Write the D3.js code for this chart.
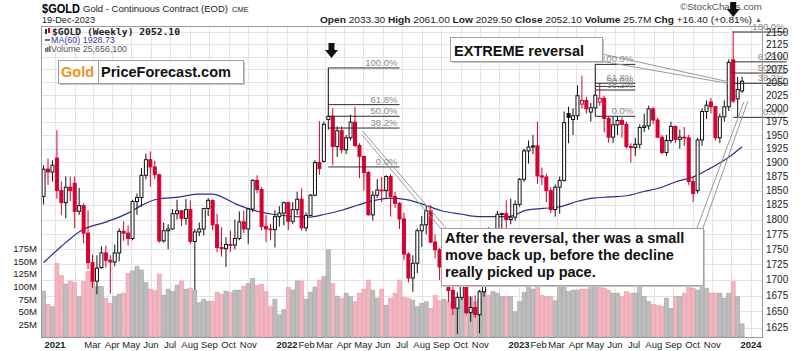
<!DOCTYPE html>
<html>
<head>
<meta charset="utf-8">
<script src="https://cdn.jsdelivr.net/npm/d3@7"></script>
<style>
body { margin: 0; background: #fff; }
svg { display: block; font-family: "Liberation Sans", Arial, sans-serif; }
</style>
</head>
<body>
<div id="chart"></div>
<script>
// Weekly $GOLD candles, first week starts Monday 2020-12-14
const firstWeek = '2020-12-14';

const opens = [1840,1888,1883,1908,1850,1829,1856,1863,1814,1824,1777,1728,1698,1720,1744,1732,1729,1744,1780,1777,
  1768,1831,1838,1877,1905,1892,1878,1764,1781,1784,1810,1815,1802,1817,1763,1779,1784,1819,1833,1791,
  1753,1751,1758,1757,1768,1796,1784,1818,1868,1852,1788,1784,1783,1805,1811,1829,1797,1817,1835,1786,
  1807,1842,1900,1902,1979,1985,1929,1958,1923,1945,1974,1931,1911,1882,1808,1842,1851,1850,1875,1840,
  1828,1801,1742,1703,1727,1781,1791,1815,1762,1749,1721,1728,1683,1655,1672,1709,1648,1656,1645,1681,
  1771,1754,1755,1809,1810,1800,1804,1826,1870,1921,1928,1930,1876,1874,1850,1817,1856,1868,1990,1979,
  1986,2008,2015,1993,2001,2012,2019,1981,1946,1969,1977,1970,1929,1927,1933,1964,1967,1999,1978,1946,
  1918,1940,1966,1942,1946,1945,1866,1850,1941,1994,2012,2003,1945,1984,2003,2094,2018,2033.3];
const highs = [1895,1907,1904,1959,1866,1875,1875,1875,1855,1828,1816,1741,1740,1755,1756,1740,1758,1785,1797,1790,
  1834,1845,1890,1916,1920,1903,1880,1795,1792,1818,1834,1816,1835,1833,1784,1795,1820,1837,1834,1810,
  1787,1770,1781,1800,1814,1815,1820,1870,1877,1856,1808,1793,1816,1823,1831,1831,1830,1848,1854,1812,
  1844,1904,1976,1975,2078,2000,1966,1966,1950,1988,2003,1935,1912,1885,1849,1870,1874,1877,1879,1848,
  1830,1812,1745,1740,1785,1806,1824,1825,1775,1752,1738,1738,1690,1680,1737,1710,1673,1675,1684,1776,
  1787,1765,1815,1812,1833,1836,1833,1872,1925,1940,1950,1975,1891,1880,1856,1861,1875,1994,2003,2000,
  2044,2063,2022,2010,2085,2048,2024,1985,1985,1985,1983,1975,1935,1945,1970,1990,2005,2003,1982,1950,
  1950,1975,1968,1960,1965,1950,1875,1945,2000,2015,2020,2005,1990,2015,2095,2152,2060,2061];
const lows = [1826,1860,1866,1836,1808,1802,1832,1785,1808,1760,1717,1687,1677,1718,1720,1678,1722,1730,1764,1756,
  1765,1808,1822,1870,1857,1870,1761,1761,1750,1783,1800,1789,1791,1759,1684,1772,1773,1806,1782,1745,
  1738,1721,1746,1750,1765,1777,1759,1813,1845,1782,1762,1765,1753,1788,1790,1782,1792,1808,1781,1780,
  1806,1840,1878,1900,1960,1895,1910,1916,1915,1940,1928,1872,1850,1807,1798,1837,1830,1837,1805,1820,
  1784,1732,1696,1681,1711,1754,1775,1760,1735,1700,1710,1665,1644,1615,1668,1645,1634,1640,1616,1673,
  1752,1733,1746,1770,1775,1792,1798,1822,1865,1898,1915,1862,1860,1830,1811,1805,1810,1866,1935,1950,
  1978,2000,1990,1975,1985,2005,1955,1936,1935,1950,1945,1925,1900,1912,1925,1955,1960,1970,1945,1915,
  1912,1935,1935,1925,1930,1860,1830,1845,1930,1980,1990,1940,1935,1975,1995,2010,1983,2029.5];
const closes = [1888,1883,1895,1850,1829,1856,1850,1814,1824,1777,1728,1698,1719,1744,1732,1729,1744,1780,1777,1768,
  1831,1838,1877,1905,1892,1878,1764,1781,1784,1810,1815,1802,1817,1763,1779,1784,1819,1833,1791,1753,
  1751,1758,1757,1768,1796,1784,1818,1868,1852,1788,1784,1783,1805,1811,1829,1797,1817,1835,1786,1807,
  1842,1900,1889,1970,1985,1929,1958,1923,1945,1974,1931,1911,1882,1808,1842,1851,1850,1875,1840,1828,
  1801,1742,1703,1727,1781,1791,1815,1762,1749,1721,1728,1683,1655,1672,1709,1648,1656,1645,1681,1771,
  1754,1755,1809,1810,1800,1804,1826,1870,1921,1928,1930,1876,1874,1850,1817,1856,1868,1973,1983,1986,
  2024,2015,1999,2001,2025,2019,1981,1946,1969,1977,1970,1929,1927,1933,1964,1967,1999,1978,1946,1918,
  1940,1966,1942,1946,1945,1866,1845,1941,1994,2006,2003,1945,1984,2003,2089,2014,2036,2052.1];
// weekly volume, millions
const volumes = [91,65,60,146,122,105,111,108,81,110,130,113,100,100,77,67,81,85,87,126,
  131,140,133,108,95,92,125,83,95,90,103,111,95,97,93,68,75,71,71,89,
  85,91,88,93,93,101,106,116,102,105,90,60,75,44,54,98,93,111,111,75,
  89,99,113,120,173,106,81,77,87,80,70,87,95,113,93,77,95,63,77,87,
  113,79,77,73,60,67,70,57,82,72,75,70,65,70,78,75,80,70,75,95,
  83,90,87,80,80,80,50,70,88,105,95,106,83,80,80,72,105,105,90,93,
  93,95,95,100,100,102,97,93,87,87,80,90,87,87,106,80,70,65,63,61,
  77,57,80,80,87,100,97,93,110,97,87,87,87,77,87,110,80,26];

// MA(60)
const maDates = ['2020-12-14','2021-01-09','2021-02-12','2021-03-23','2021-04-26','2021-05-15','2021-06-10',
  '2021-07-17','2021-08-12','2021-09-07','2021-09-20','2021-10-14','2021-11-09','2021-12-10','2022-02-03',
  '2022-03-02','2022-03-28','2022-04-23','2022-05-19','2022-06-15','2022-07-10','2022-08-06','2022-09-01',
  '2022-10-03','2022-10-28','2022-12-15','2023-01-13','2023-02-08','2023-03-07','2023-04-02','2023-04-27',
  '2023-05-24','2023-06-19','2023-07-15','2023-08-11','2023-09-06','2023-10-02','2023-10-28','2023-11-24',
  '2023-12-18'];
const maValues = [1728,1753,1782,1796,1811,1823,1835,1839,1844,1844,1839,1826,1816,1809,1804,
  1809,1816,1825,1833,1837,1834,1825,1815,1809,1805,1805,1816,1819,1822,1831,1837,
  1839,1841,1848,1855,1866,1874,1889,1907,1928.73];

const priceTicks = [1625,1650,1675,1700,1725,1750,1775,1800,1825,1850,1875,1900,1925,1950,1975,
  2000,2025,2050,2075,2100,2125,2150];
const volumeTicks = [25,50,75,100,125,150,175];
const monthLabelDates = ['2021-01-01','2021-03-01','2021-04-01','2021-05-01','2021-06-01','2021-07-01',
  '2021-08-01','2021-09-01','2021-10-01','2021-11-01','2022-01-01','2022-02-01','2022-03-01','2022-04-01',
  '2022-05-01','2022-06-01','2022-07-01','2022-08-01','2022-09-01','2022-10-01','2022-11-01','2023-01-01',
  '2023-02-01','2023-03-01','2023-04-01','2023-05-01','2023-06-01','2023-07-01','2023-08-01','2023-09-01',
  '2023-10-01','2023-11-01','2024-01-01'];

// Fibonacci retracements drawn on the chart
const fibLabels = ['100.0%','61.8%','50.0%','38.2%','0.0%'];
const fibStarts = ['2022-03-07','2023-05-01','2023-12-04'];
const fibEnds = ['2022-06-27','2023-07-03','2024-02-26'];
const fibLevels = [
  [2078, 2007, 1985, 1963, 1892],
  [2085, 2048, 2042, 2035, 1985],
  [2150, 2090, 2068, 2048, 1983]
];

function drawChart() {
    const width = 800, height = 351;
    const left = 41.5, right = 762.5, top = 26.5, bottom = 337.5;
    const parseDate = d3.timeParse('%Y-%m-%d');

    const svg = d3.select('#chart').append('svg')
        .attr('width', width)
        .attr('height', height);

    const x = d3.scaleTime()
        .domain([new Date(2021, 0, 1), new Date(2024, 0, 1)])
        .range([55, 751]);
    const y = d3.scaleLog()
        .domain([1625, 2150])
        .range([327.5, 32]);
    const v = d3.scaleLinear()
        .domain([0, 175])
        .range([337, 248.8]);

    const start = parseDate(firstWeek);
    const weeks = d3.timeMonday.range(start, d3.timeDay.offset(start, opens.length * 7));
    const bars = weeks.map((date, i) => {
        const prev = i ? closes[i - 1] : opens[i];
        return {
            date: date, open: opens[i], high: highs[i], low: lows[i], close: closes[i],
            volume: volumes[i], up: closes[i] >= prev
        };
    });
    const red = '#d6002f';

    // grid
    const grid = svg.append('g');
    grid.selectAll('.hg').data(priceTicks).join('line')
        .attr('x1', left).attr('x2', right)
        .attr('y1', d => Math.round(y(d)) + 0.5).attr('y2', d => Math.round(y(d)) + 0.5)
        .attr('stroke', '#e3e3e3');
    grid.selectAll('.vg').data(d3.timeMonth.range(new Date(2021, 0, 1), new Date(2024, 0, 2))).join('line')
        .attr('x1', d => Math.round(x(d)) + 0.5).attr('x2', d => Math.round(x(d)) + 0.5)
        .attr('y1', top).attr('y2', bottom)
        .attr('stroke', '#e3e3e3');

    // volume
    svg.append('g').selectAll('rect').data(bars).join('rect')
        .attr('x', d => x(d.date) - 2)
        .attr('width', 4)
        .attr('y', d => v(d.volume))
        .attr('height', d => v(0) - v(d.volume))
        .attr('fill', d => d.up ? '#bdbdbd' : '#f3b6c0')
        .attr('stroke', d => d.up ? '#a2a2a2' : '#e69aa8')
        .attr('stroke-width', 0.6);

    // MA(60)
    const line = d3.line()
        .x(d => x(d.date))
        .y(d => y(d.value))
        .curve(d3.curveMonotoneX);
    svg.append('path')
        .datum(maDates.map((d, i) => ({ date: parseDate(d), value: maValues[i] })))
        .attr('d', line)
        .attr('fill', 'none')
        .attr('stroke', '#2d2d8e')
        .attr('stroke-width', 1.2);

    // candles
    const candles = svg.append('g').selectAll('g').data(bars).join('g');
    candles.append('line')
        .attr('x1', d => x(d.date)).attr('x2', d => x(d.date))
        .attr('y1', d => y(d.high)).attr('y2', d => y(d.low))
        .attr('stroke', d => d.up ? '#111' : red)
        .attr('stroke-width', 1);
    candles.append('rect')
        .attr('x', d => x(d.date) - 1.5)
        .attr('width', 3)
        .attr('y', d => y(Math.max(d.open, d.close)))
        .attr('height', d => Math.max(0.8, Math.abs(y(d.open) - y(d.close))))
        .attr('fill', d => d.close >= d.open ? '#fff' : (d.up ? '#111' : red))
        .attr('stroke', d => d.up ? '#111' : red)
        .attr('stroke-width', 1);

    // fibonacci lines
    const fib = svg.append('g');
    fibLevels.forEach((levels, k) => {
        const x0 = x(parseDate(fibStarts[k])), x1 = x(parseDate(fibEnds[k]));
        levels.forEach((p, j) => {
            fib.append('line')
                .attr('x1', x0).attr('x2', x1)
                .attr('y1', y(p)).attr('y2', y(p))
                .attr('stroke', '#2a2a2a').attr('stroke-width', 1);
            fib.append('text')
                .attr('x', x1 - 2).attr('y', y(p) - 2)
                .attr('text-anchor', 'end')
                .attr('font-size', 9.5)
                .attr('fill', '#8a8a8a')
                .text(fibLabels[j]);
        });
    });

    // frame
    svg.append('rect')
        .attr('x', left).attr('y', top)
        .attr('width', right - left).attr('height', bottom - top)
        .attr('fill', 'none').attr('stroke', '#9a9a9a');

    // axes labels
    svg.append('g').selectAll('text').data(priceTicks).join('text')
        .attr('x', 766).attr('y', d => y(d)).attr('dy', '0.35em')
        .attr('font-size', 10).attr('fill', '#222')
        .text(d => d);
    svg.append('g').selectAll('text').data(volumeTicks).join('text')
        .attr('x', 37).attr('y', d => v(d)).attr('dy', '0.35em')
        .attr('text-anchor', 'end')
        .attr('font-size', 9.5).attr('fill', '#222')
        .text(d => d + 'M');
    svg.append('g').selectAll('text').data(monthLabelDates.map(parseDate)).join('text')
        .attr('x', d => x(d)).attr('y', 348)
        .attr('text-anchor', 'middle')
        .attr('font-size', 9.5)
        .attr('font-weight', d => d.getMonth() === 0 ? 700 : 400)
        .attr('fill', '#222')
        .text(d => d.getMonth() === 0 ? d3.timeFormat('%Y')(d) : d3.timeFormat('%b')(d));

    // header
    svg.append('text').attr('x', 42).attr('y', 13)
        .attr('font-size', 12).attr('font-weight', 700)
        .attr('textLength', 38).attr('lengthAdjust', 'spacingAndGlyphs')
        .text('$GOLD');
    svg.append('text').attr('x', 83).attr('y', 12)
        .attr('font-size', 9.5).attr('fill', '#222')
        .attr('textLength', 145).attr('lengthAdjust', 'spacingAndGlyphs')
        .text('Gold - Continuous Contract (EOD)');
    svg.append('text').attr('x', 232).attr('y', 12)
        .attr('font-size', 7.5).attr('fill', '#222')
        .text('CME');
    svg.append('text').attr('x', 42).attr('y', 23)
        .attr('font-size', 9.5).attr('fill', '#222')
        .attr('textLength', 53).attr('lengthAdjust', 'spacingAndGlyphs')
        .text('19-Dec-2023');
    const quote = svg.append('text').attr('x', 320).attr('y', 23)
        .attr('font-size', 9.5).attr('fill', '#222')
        .attr('textLength', 432).attr('lengthAdjust', 'spacingAndGlyphs');
    [['Open', ' 2033.30  '], ['High', ' 2061.00  '], ['Low', ' 2029.50  '], ['Close', ' 2052.10  '],
     ['Volume', ' 25.7M  '], ['Chg', ' +16.40 (+0.81%)']].forEach(p => {
        quote.append('tspan').attr('font-weight', 700).text(p[0]);
        quote.append('tspan').text(p[1]);
    });
    svg.append('text').attr('x', 755).attr('y', 22)
        .attr('font-size', 7).attr('fill', '#555').text('▲');
    svg.append('text').attr('x', 680).attr('y', 10)
        .attr('font-size', 9).attr('fill', '#555')
        .attr('textLength', 82).attr('lengthAdjust', 'spacingAndGlyphs')
        .text('©StockCharts.com');

    // legend
    const lg = svg.append('g');
    lg.append('rect').attr('x', 45).attr('y', 29).attr('width', 2).attr('height', 5).attr('fill', '#333');
    lg.append('rect').attr('x', 48).attr('y', 28).attr('width', 2).attr('height', 5).attr('fill', red);
    lg.append('text').attr('x', 52).attr('y', 35)
        .attr('font-family', '"DejaVu Sans Mono", monospace')
        .attr('font-size', 9.5).attr('font-weight', 700).attr('fill', '#222')
        .attr('textLength', 128).attr('lengthAdjust', 'spacingAndGlyphs')
        .text('$GOLD (Weekly) 2052.10');
    lg.append('line').attr('x1', 45).attr('x2', 50).attr('y1', 40).attr('y2', 40)
        .attr('stroke', '#3a3a9a').attr('stroke-width', 1.5);
    lg.append('text').attr('x', 51).attr('y', 43)
        .attr('font-size', 9).attr('fill', '#3a3a9a')
        .attr('textLength', 64).attr('lengthAdjust', 'spacingAndGlyphs')
        .text('MA(60) 1928.73');
    [0, 2, 4].forEach((dx, i) => {
        lg.append('rect').attr('x', 45 + dx).attr('y', 48 - i).attr('width', 1.5).attr('height', 4 + i)
            .attr('fill', '#666');
    });
    lg.append('text').attr('x', 51).attr('y', 52)
        .attr('font-size', 9).attr('fill', '#555')
        .attr('textLength', 76).attr('lengthAdjust', 'spacingAndGlyphs')
        .text('Volume 25,656,100');

    // arrows
    const arrowDates = ['2022-03-12', '2023-12-04'];
    const arrowTops = [43, 2];
    arrowDates.forEach((d, i) => {
        const cx = x(parseDate(d)), t = arrowTops[i];
        svg.append('path')
            .attr('d', `M${cx - 3},${t}H${cx + 3}V${t + 7}H${cx + 6.5}L${cx},${t + 15}L${cx - 6.5},${t + 7}H${cx - 3}Z`)
            .attr('fill', '#111');
    });

    // callout pointers
    const tipA = [x(parseDate('2022-04-30')), y(1957)];
    const tipB = [x(parseDate('2023-11-25')), y(2048)];
    const tipC = [x(parseDate('2023-12-24')), y(2012)];
    const pointers = [
        [[tipA[0], tipA[1]], [446, 228]], [[tipA[0] - 1, tipA[1] + 3], [441, 229]],
        [[tipB[0] + 1, tipB[1] - 1.5], [602, 54]], [[tipB[0], tipB[1]], [600, 61]],
        [[tipC[0] + 2, tipC[1] - 1], [703, 228]], [[tipC[0] - 2, tipC[1]], [697, 228]]
    ];
    svg.append('g').selectAll('line').data(pointers).join('line')
        .attr('x1', d => d[0][0]).attr('y1', d => d[0][1])
        .attr('x2', d => d[1][0]).attr('y2', d => d[1][1])
        .attr('stroke', '#9a9a9a').attr('stroke-width', 1);

    function box(x0, y0, w, h) {
        svg.append('rect').attr('x', x0 + 2).attr('y', y0 + 2).attr('width', w).attr('height', h)
            .attr('fill', '#c6c6c6');
        svg.append('rect').attr('x', x0 + 0.5).attr('y', y0 + 0.5).attr('width', w).attr('height', h)
            .attr('fill', '#fff').attr('stroke', '#a0a0a0');
    }

    // logo
    box(58, 60, 185, 23);
    svg.append('line').attr('x1', 98.5).attr('x2', 98.5).attr('y1', 60.5).attr('y2', 83.5)
        .attr('stroke', '#a0a0a0');
    svg.append('text').attr('x', 61).attr('y', 77)
        .attr('font-size', 14.5).attr('font-weight', 700).attr('fill', '#ef9322')
        .text('Gold');
    svg.append('text').attr('x', 101).attr('y', 77)
        .attr('font-size', 14).attr('font-weight', 700).attr('fill', '#111')
        .attr('textLength', 130).attr('lengthAdjust', 'spacingAndGlyphs')
        .text('PriceForecast.com');

    // annotation boxes
    box(450, 37, 152, 24);
    svg.append('text').attr('x', 454).attr('y', 56)
        .attr('font-size', 14.5).attr('font-weight', 700).attr('fill', '#111')
        .attr('textLength', 130).attr('lengthAdjust', 'spacingAndGlyphs')
        .text('EXTREME reversal');

    box(441, 228, 262, 57);
    const noteLines = ['After the reversal, ther was a small', 'move back up, before the decline', 'really picked up pace.'];
    svg.append('g').selectAll('text').data(noteLines).join('text')
        .attr('x', 445).attr('y', (d, i) => 243 + i * 17)
        .attr('font-size', 14.5).attr('font-weight', 700).attr('fill', '#111')
        .text(d => d);
}

if (document.readyState === 'loading') {
    document.addEventListener('DOMContentLoaded', drawChart);
} else {
    drawChart();
}
</script>
</body>
</html>
